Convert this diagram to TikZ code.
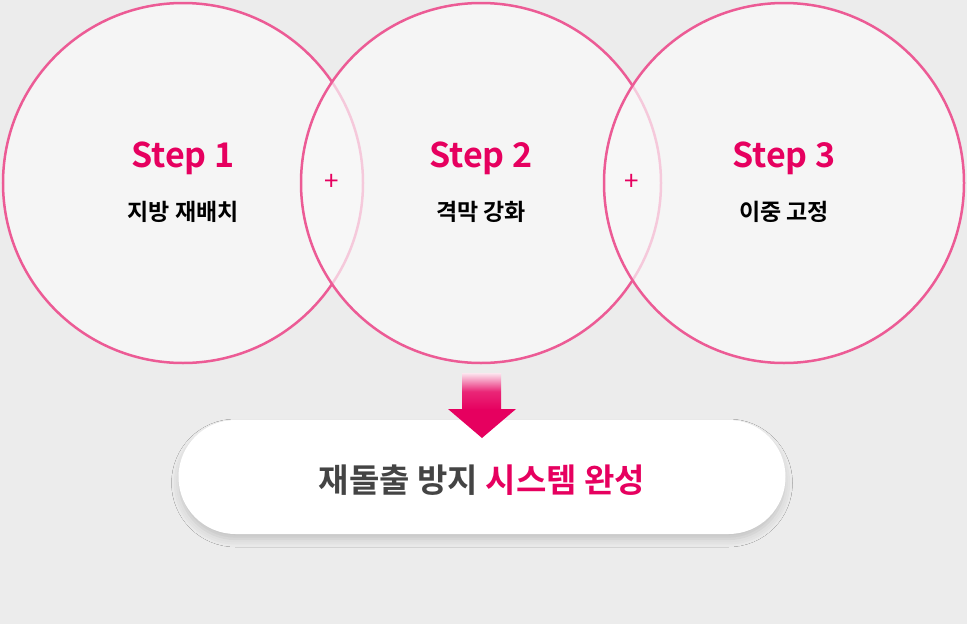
\documentclass[tikz,border=0pt]{standalone}
\usepackage{fontspec}
\setmainfont{Noto Sans CJK KR}[BoldFont={Noto Sans CJK KR Bold}]
\usetikzlibrary{shadows.blur}
\definecolor{bg}{HTML}{ECECEC}
\definecolor{cf}{HTML}{F9F9F9}
\definecolor{pk}{HTML}{EC5B95}
\definecolor{pt}{HTML}{E6005F}
\definecolor{dk}{HTML}{444444}
\tikzset{
  circ/.style={circle,minimum size=360pt,inner sep=0pt,fill=cf,fill opacity=0.7,draw=pk,draw opacity=1,line width=2.5pt},
  steplbl/.style={font=\bfseries\fontsize{34}{38}\selectfont,text=pt},
  sublbl/.style={font=\bfseries\fontsize{23}{26}\selectfont,text=black},
  pluslbl/.style={font=\fontsize{26}{28}\selectfont,text=pt}
}
\begin{document}
\begin{tikzpicture}[x=1pt,y=-1pt]
\fill[bg] (0,0) rectangle (967,624);
\useasboundingbox (0,0) rectangle (967,624);
\node[circ] (c1) at (183,183) {};
\node[circ] (c2) at (481,183) {};
\node[circ] (c3) at (784,183) {};
\node[steplbl] (s1) at (183,158) {Step 1};
\node[sublbl] (t1) at (183,212) {지방 재배치};
\node[steplbl] (s2) at (481,158) {Step 2};
\node[sublbl] (t2) at (481,212) {격막 강화};
\node[steplbl] (s3) at (784,158) {Step 3};
\node[sublbl] (t3) at (784,212) {이중 고정};
\node[pluslbl] (p1) at (332,182) {+};
\node[pluslbl] (p2) at (632,182) {+};
\node[rounded corners=56pt,minimum width=605pt,minimum height=112pt,fill=white,draw=white,line width=2pt,
  blur shadow={shadow xshift=0pt,shadow yshift=-6pt,shadow blur radius=8pt,shadow opacity=18}] (pill) at (482,477) {};
\shade[top color=pt!10,bottom color=pt,middle color=pt!85] (462,373) rectangle (501,410);
\fill[pt] (448,409) -- (516,409) -- (482,438) -- cycle;
\node[font=\bfseries\fontsize{33}{36}\selectfont] (lbl) at (482,480) {\textcolor{dk}{재돌출 방지} \textcolor{pt}{시스템 완성}};
\end{tikzpicture}
\end{document}
